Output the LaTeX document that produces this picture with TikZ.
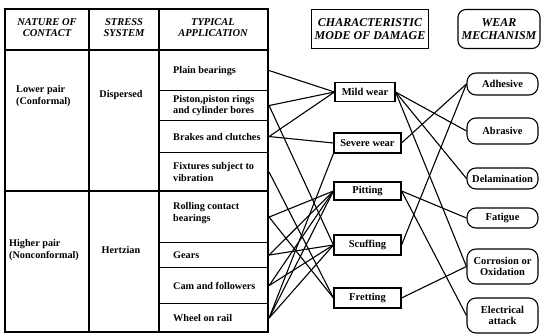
\documentclass[tikz,border=0pt]{standalone}
\usepackage{fontspec}
\setmainfont{Liberation Serif}
\begin{document}
\begin{tikzpicture}[x=1pt,y=-1pt,
  tbl/.style={line width=1.1pt},
  hdr/.style={font=\fontsize{10.5}{11}\selectfont\bfseries\itshape, align=center, inner sep=0pt},
  txt/.style={font=\fontsize{10.2}{11.5}\selectfont\bfseries, align=left, inner sep=0pt},
  cell/.style={draw, line width=1.1pt, anchor=north west, minimum width=109pt, inner sep=0pt},
  dmg/.style={draw, line width=1.1pt, minimum width=67pt, minimum height=19pt, inner sep=0pt, font=\fontsize{10.5}{11.5}\selectfont\bfseries},
  mech/.style={draw, line width=1.1pt, rounded corners=9pt, minimum width=71pt, inner sep=0pt, align=center, font=\fontsize{10.5}{11.5}\selectfont\bfseries},
  bighdr/.style={draw, line width=1.1pt, inner sep=0pt, align=center, font=\fontsize{12}{12.5}\selectfont\bfseries\itshape},
  link/.style={line width=1.1pt}
]
\useasboundingbox (0,0) rectangle (541,336);
% table frame
\draw[tbl] (5,9) rectangle (268,332);
\draw[tbl] (89,9) -- (89,332);
\draw[tbl] (159,9) -- (159,332);
\draw[tbl] (5,50) -- (268,50);
\draw[tbl] (5,191) -- (268,191);
% headers
\node[hdr] (h1) at (47,28) {NATURE OF\\CONTACT};
\node[hdr] (h2) at (124,28) {STRESS\\SYSTEM};
\node[hdr] (h3) at (213,28) {TYPICAL\\APPLICATION};
\node[txt, anchor=west] (lower) at (16,96) {Lower pair\\(Conformal)};
\node[txt] (disp) at (121,95) {Dispersed};
\node[txt, anchor=west] (higher) at (9,250) {Higher pair\\(Nonconformal)};
\node[txt] (hertz) at (121,250) {Hertzian};
% application cells
\node[cell, minimum height=40pt] (plain) at (159,50) {};
\node[cell, minimum height=30pt] (piston) at (159,90) {};
\node[cell, minimum height=32pt] (brakes) at (159,120) {};
\node[cell, minimum height=39pt] (fix) at (159,152) {};
\node[cell, minimum height=51pt] (roll) at (159,191) {};
\node[cell, minimum height=25pt] (gears) at (159,242) {};
\node[cell, minimum height=36pt] (cam) at (159,267) {};
\node[cell, minimum height=29pt] (wheel) at (159,303) {};
\node[txt, anchor=west] (tplain) at ([xshift=14pt,yshift=-1pt]plain.west) {Plain bearings};
\node[txt, anchor=west] (tpiston) at ([xshift=14pt]piston.west) {Piston,piston rings\\and cylinder bores};
\node[txt, anchor=west] (tbrakes) at ([xshift=14pt]brakes.west) {Brakes and clutches};
\node[txt, anchor=west] (tfix) at ([xshift=14pt]fix.west) {Fixtures subject to\\vibration};
\node[txt, anchor=west] (troll) at ([xshift=14pt,yshift=4pt]roll.west) {Rolling contact\\bearings};
\node[txt, anchor=west] (tgears) at ([xshift=14pt]gears.west) {Gears};
\node[txt, anchor=west] (tcam) at ([xshift=14pt]cam.west) {Cam and followers};
\node[txt, anchor=west] (twheel) at ([xshift=14pt]wheel.west) {Wheel on rail};
% column headers right
\node[bighdr, minimum width=117pt, minimum height=39pt] (chm) at (370,29) {CHARACTERISTIC\\MODE OF DAMAGE};
\node[bighdr, rounded corners=8pt, minimum width=82pt, minimum height=39pt] (wm) at (499,29) {WEAR\\MECHANISM};
% damage
\node[dmg, minimum width=60pt] (mild) at (365,92) {Mild wear};
\node[dmg, minimum height=20pt] (severe) at (367.5,143) {Severe wear};
\node[dmg, minimum height=18pt] (pit) at (367.5,191) {Pitting};
\node[dmg, minimum height=20pt] (scuff) at (367.5,245) {Scuffing};
\node[dmg, minimum height=20pt] (fret) at (367.5,298) {Fretting};
% mechanisms
\node[mech, minimum height=22pt] (adh) at (502.5,84) {Adhesive};
\node[mech, minimum height=26pt] (abr) at (502.5,131) {Abrasive};
\node[mech, minimum height=21pt] (del) at (502.5,178.5) {Delamination};
\node[mech, minimum height=20pt] (fat) at (502.5,218) {Fatigue};
\node[mech, minimum height=35pt] (cor) at (502.5,266.5) {Corrosion or\\Oxidation};
\node[mech, minimum height=35pt] (ele) at (502.5,315.5) {Electrical\\attack};
% links application -> damage
\draw[link] (plain.east) -- (mild.west);
\draw[link] (piston.east) -- (mild.west);
\draw[link] (piston.east) -- (scuff.west);
\draw[link] (brakes.east) -- (mild.west);
\draw[link] (brakes.east) -- (severe.west);
\draw[link] (fix.east) -- (fret.west);
\draw[link] (roll.east) -- (pit.west);
\draw[link] (roll.east) -- (fret.west);
\draw[link] (gears.east) -- (pit.west);
\draw[link] (gears.east) -- (scuff.west);
\draw[link] (cam.east) -- (pit.west);
\draw[link] (cam.east) -- (scuff.west);
\draw[link] (wheel.east) -- (pit.west);
\draw[link] (wheel.east) -- (scuff.west);
\draw[link] (wheel.east) -- (severe.south west);
% links damage -> mechanism
\draw[link] (mild.east) -- (abr.west);
\draw[link] (mild.east) -- (del.west);
\draw[link] (mild.east) -- (cor.west);
\draw[link] (severe.east) -- (adh.west);
\draw[link] (pit.east) -- (fat.west);
\draw[link] (pit.east) -- (ele.west);
\draw[link] (scuff.east) -- (adh.west);
\draw[link] (fret.east) -- (cor.west);
\end{tikzpicture}
\end{document}
